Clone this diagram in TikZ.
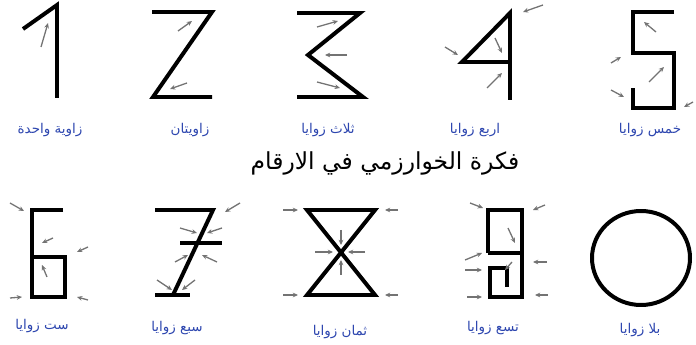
\documentclass[tikz,border=0pt]{standalone}
\usepackage{fontspec}
\newfontfamily\arabicfont[Script=Arabic]{DejaVu Sans}
\TeXXeTstate=1
\usetikzlibrary{arrows.meta}
\definecolor{labelBlue}{RGB}{45,70,175}
\definecolor{hintGray}{RGB}{115,115,115}
\tikzset{
  digitLine/.style={line width=3.4pt,black},
  hintArrow/.style={-{Stealth[length=4.5pt,width=4pt]},line width=1.1pt,hintGray},
  caption/.style={font=\arabicfont\fontsize{11.5}{13}\selectfont,text=labelBlue,inner sep=1pt},
  titleText/.style={font=\arabicfont\fontsize{20}{24}\selectfont,inner sep=1pt},
}
\begin{document}
\begin{tikzpicture}[x=0.03cm,y=-0.03cm]
  \useasboundingbox (0,0) rectangle (696,345);
  % top row: 1 to 5
  \draw[digitLine] (23,29) -- (57,5) -- (57,98);
  \draw[digitLine] (152,12) -- (212,12) -- (153,97) -- (212,97);
  \draw[digitLine] (297,13) -- (360,13) -- (308,55) -- (363,97) -- (297,97);
  \draw[digitLine] (510,100) -- (510,13) -- (462,62) -- (510,62);
  \draw[digitLine] (674,12) -- (633,12) -- (633,53) -- (674,53) -- (674,108) -- (633,108) -- (633,88);
  \foreach \xa/\ya/\xb/\yb in {41/47/48/23, 178/31/192/21, 187/83/170/89,
      317/27/338/21, 347/55/325/55, 317/82/340/88,
      543/5/523/12, 445/47/458/55, 495/38/502/53, 487/88/502/73,
      656/32/644/22, 611/63/621/57, 649/82/664/67, 611/90/624/97, 693/102/684/107}
    {\draw[hintArrow] (\xa,\ya) -- (\xb,\yb);}
  % bottom row: 6 to 0
  \draw[digitLine] (63,210) -- (32,210) -- (32,297) -- (65,297) -- (65,257) -- (32,257);
  \draw[digitLine] (155,210) -- (213,210) -- (173,295);
  \draw[digitLine] (155,295) -- (190,295);
  \draw[digitLine] (180,243) -- (222,243);
  \draw[digitLine] (307,210) -- (375,210) -- (307,295) -- (375,295) -- cycle;
  \draw[digitLine] (488,253) -- (522,253) (507,287) -- (507,268) -- (490,268) -- (490,297)
      -- (522,297) -- (522,210) -- (488,210) -- (488,253);
  \draw[digitLine] (641,258) ellipse (49 and 47);
  \foreach \xa/\ya/\xb/\yb in {10/203/24/211, 53/238/42/243, 47/277/42/265,
      88/247/77/252, 10/298/22/297, 88/300/77/297,
      240/203/225/212, 180/228/197/233, 222/228/207/233, 175/262/188/255,
      217/262/202/255, 157/280/172/290, 195/280/182/290,
      283/210/298/210, 398/210/385/210, 315/252/333/252, 365/252/348/252,
      341/230/341/245, 341/275/341/260, 283/295/298/295, 398/295/385/295,
      470/203/483/208, 545/205/533/210, 508/228/515/243, 465/260/482/253,
      465/270/482/270, 512/262/505/270, 547/262/533/262, 467/297/482/297,
      548/295/535/295}
    {\draw[hintArrow] (\xa,\ya) -- (\xb,\yb);}
  % captions
  \node[caption] (cap1) at (50,130) {\beginR زاوية واحدة\endR};
  \node[caption] (cap2) at (190,130) {\beginR زاويتان\endR};
  \node[caption] (cap3) at (328,130) {\beginR ثلاث زوايا\endR};
  \node[caption] (cap4) at (475,130) {\beginR اربع زوايا\endR};
  \node[caption] (cap5) at (650,130) {\beginR خمس زوايا\endR};
  \node[caption] (cap6) at (42,326) {\beginR ست زوايا\endR};
  \node[caption] (cap7) at (177,328) {\beginR سبع زوايا\endR};
  \node[caption] (cap8) at (340,332) {\beginR ثمان زوايا\endR};
  \node[caption] (cap9) at (493,328) {\beginR تسع زوايا\endR};
  \node[caption] (cap0) at (640,330) {\beginR بلا زوايا\endR};
  \node[titleText] (title) at (385,163) {\beginR فكرة الخوارزمي في الارقام\endR};
\end{tikzpicture}
\end{document}
